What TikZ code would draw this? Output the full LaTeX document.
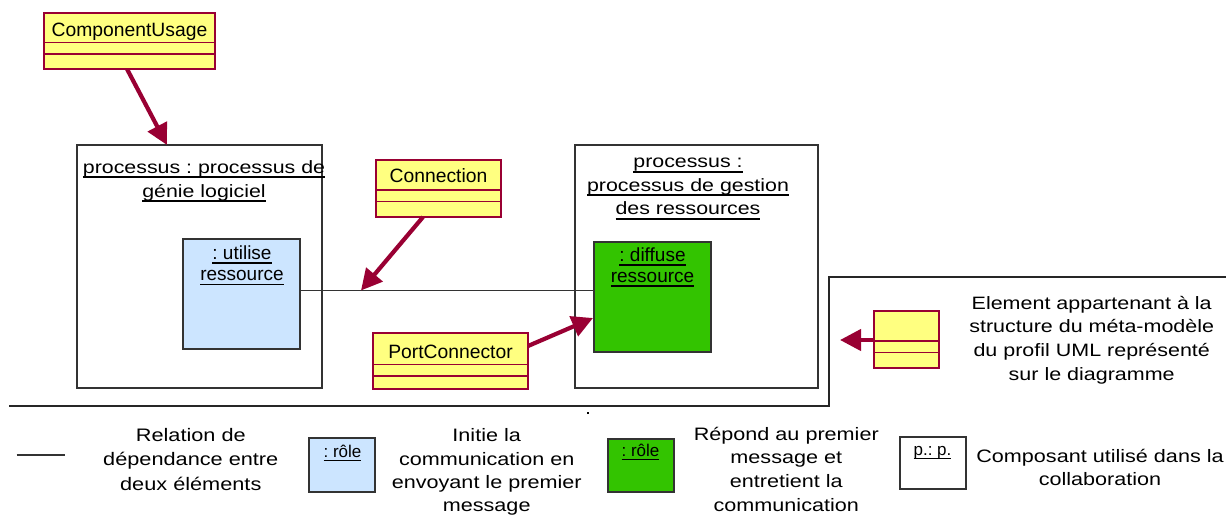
\documentclass[tikz,border=0pt]{standalone}
\usepackage{fontspec}
\setmainfont{Liberation Sans}
\newfontfamily\wide{Liberation Sans}[FakeStretch=1.2]
\usetikzlibrary{arrows.meta,calc}
\definecolor{cls}{HTML}{FFFF80}
\definecolor{crim}{HTML}{990033}
\definecolor{lblue}{HTML}{CCE5FF}
\definecolor{lgreen}{HTML}{33C400}
\definecolor{edge}{HTML}{333333}
\frenchspacing
\newsavebox\ulbox
\newcommand\ulx[1]{\sbox\ulbox{#1}\rlap{\rule[-5pt]{\wd\ulbox}{2pt}}\usebox\ulbox}
\newcommand\uls[1]{\sbox\ulbox{#1}\rlap{\rule[-4pt]{\wd\ulbox}{1.3pt}}\usebox\ulbox}
\newcommand\lines[1]{\begin{tabular}[t]{@{}c@{}}#1\end{tabular}}
\begin{document}
\begin{tikzpicture}[x=1pt,y=-1pt,
  classbox/.style={draw=crim, line width=1.3pt, fill=cls, anchor=north west, inner sep=0pt, outer sep=0pt},
  divider/.style={draw=crim, line width=1.1pt},
  proc/.style={draw=edge, line width=1.4pt, fill=white, anchor=north west, inner sep=0pt, outer sep=0pt},
  rolebox/.style={draw=edge, line width=1.3pt, anchor=north west, inner sep=0pt, outer sep=0pt},
  clsname/.style={anchor=base, inner sep=0pt, font=\fontsize{19.3}{22}\selectfont},
  txt/.style={anchor=base, inner sep=0pt},
  link/.style={crim, line width=4.2pt, -{Triangle[length=21pt,width=21pt]}},
  dep/.style={draw=edge, line width=1.4pt},
  frame/.style={draw=black!85, line width=1.3pt}
]
\useasboundingbox (0,0) rectangle (1226,515);

% frames
\draw[frame] (9,406) -- (829,406) -- (829,277) -- (1226,277);
\fill (586.5,411.5) rectangle (588.5,413.5);

% process boxes
\node[proc, minimum width=245pt, minimum height=243pt] (lp) at (77,145) {};
\node[proc, minimum width=243pt, minimum height=243pt] (rp) at (575,145) {};
\node[txt, font=\wide\fontsize{17.8}{24.3}\selectfont] (lpt) at (204,173)
  {\lines{\ulx{processus : processus de}\\\ulx{génie logiciel}}};
\node[txt, font=\wide\fontsize{17.8}{23.5}\selectfont] (rpt) at (688,167.5)
  {\lines{\ulx{processus :}\\\ulx{processus de gestion}\\\ulx{des ressources}}};

% role boxes
\node[rolebox, fill=lblue, minimum width=117pt, minimum height=110pt] (ub) at (183,239) {};
\node[rolebox, fill=lgreen, minimum width=117pt, minimum height=110pt] (gb) at (594,242) {};
\node[txt, font=\fontsize{19}{21.3}\selectfont] (ubt) at (242,259.5)
  {\lines{\uls{: utilise}\\\uls{ressource}}};
\node[txt, font=\fontsize{19}{21}\selectfont] (gbt) at (652.5,261.7)
  {\lines{\uls{: diffuse}\\\uls{ressource}}};

% dependency
\draw[dep] ($(ub.north east)+(0,51.5)$) -- ($(gb.north west)+(0,48.5)$);
\coordinate (ctip) at (361,290.5);

% class boxes
\node[classbox, minimum width=171pt, minimum height=56pt] (cu) at (44,13) {};
\draw[divider] ($(cu.north west)+(0,29.7)$) -- ($(cu.north east)+(0,29.7)$);
\draw[divider] ($(cu.north west)+(0,41)$) -- ($(cu.north east)+(0,41)$);
\node[clsname] (cut) at (129.5,36) {ComponentUsage};

\node[classbox, minimum width=125pt, minimum height=57pt] (cn) at (376,160) {};
\draw[divider] ($(cn.north west)+(0,30)$) -- ($(cn.north east)+(0,30)$);
\draw[divider] ($(cn.north west)+(0,41.7)$) -- ($(cn.north east)+(0,41.7)$);
\node[clsname] (cnt) at (438.5,182.3) {Connection};

\node[classbox, minimum width=155pt, minimum height=56pt] (pc) at (373,333) {};
\draw[divider] ($(pc.north west)+(0,31.3)$) -- ($(pc.north east)+(0,31.3)$);
\draw[divider] ($(pc.north west)+(0,43)$) -- ($(pc.north east)+(0,43)$);
\node[clsname] (pct) at (450.5,358.3) {PortConnector};

\node[classbox, minimum width=65pt, minimum height=57pt] (le) at (874,311) {};
\draw[divider] ($(le.north west)+(0,30)$) -- ($(le.north east)+(0,30)$);
\draw[divider] ($(le.north west)+(0,41.3)$) -- ($(le.north east)+(0,41.3)$);
\coordinate (letip) at (840,340);

% links
\draw[link] ($(cu.south west)+(83,0)$) -- ($(lp.north west)+(90,0)$);
\draw[link] ($(cn.south west)+(47,0)$) -- (ctip);
\draw[link] ($(pc.north east)+(0,13)$) -- ($(gb.north west)+(-1,76)$);
\draw[link] ($(le.north west)+(0,29)$) -- (letip);

\node[txt, font=\wide\fontsize{17.9}{23.7}\selectfont] (let) at (1091.7,309)
  {\lines{Element appartenant à la\\structure du méta-modèle\\du profil UML représenté\\sur le diagramme}};

% legend
\draw[dep] (16.7,455) -- (65,455);
\node[txt, font=\wide\fontsize{18.1}{24.5}\selectfont] (l1) at (190.8,441)
  {\lines{Relation de\\dépendance entre\\deux éléments}};
\node[rolebox, fill=lblue, minimum width=66pt, minimum height=54pt] (lb) at (309,438) {};
\node[txt, font=\fontsize{17}{20}\selectfont] (lbt) at (342.5,457) {\uls{: rôle}};
\node[txt, font=\wide\fontsize{18}{23.4}\selectfont] (l2) at (486.7,441.7)
  {\lines{Initie la\\communication en\\envoyant le premier\\message}};
\node[rolebox, fill=lgreen, minimum width=66pt, minimum height=53pt] (lg) at (608,439) {};
\node[txt, font=\fontsize{17}{20}\selectfont] (lgt) at (640.5,456) {\uls{: rôle}};
\node[txt, font=\wide\fontsize{18}{23.9}\selectfont] (l3) at (786.3,440)
  {\lines{Répond au premier\\message et\\entretient la\\communication}};
\node[rolebox, fill=white, minimum width=66pt, minimum height=52pt] (lw) at (900,437) {};
\node[txt, font=\fontsize{17}{20}\selectfont] (lwt) at (932.5,455) {\uls{p.: p.}};
\node[txt, font=\wide\fontsize{18}{22.4}\selectfont] (l4) at (1100,462.7)
  {\lines{Composant utilisé dans la\\collaboration}};
\end{tikzpicture}
\end{document}
